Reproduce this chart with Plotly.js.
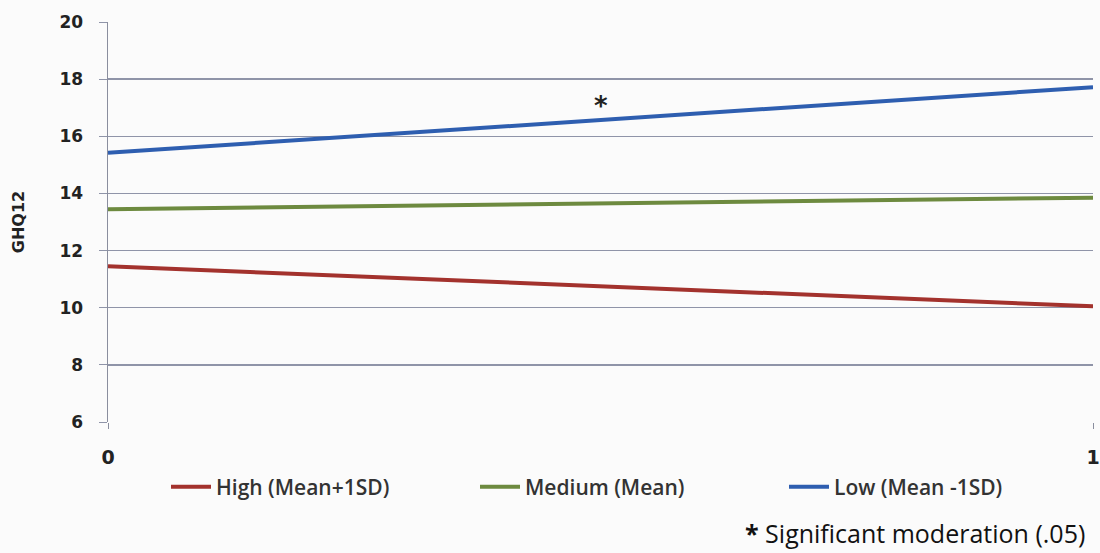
<!DOCTYPE html>
<html>
<head>
<meta charset="utf-8">
<script src="https://cdn.plot.ly/plotly-3.0.1.min.js"></script>
<style>
  html, body { margin: 0; padding: 0; background: #fbfbfb; }
  #chart { width: 1100px; height: 553px; }
</style>
</head>
<body>
<div id="chart"></div>
<script>
// Moderator level on the x axis (0 = absent, 1 = present)
const xLevels = [0, 1];

// Predicted GHQ12 score for each moderator group
const seriesNames = ['High (Mean+1SD)', 'Medium (Mean)', 'Low (Mean -1SD)'];
const highValues = [11.45, 10.05];
const mediumValues = [13.45, 13.85];
const lowValues = [15.42, 17.72];

const yTicks = [6, 8, 10, 12, 14, 16, 18, 20];

// Marker for the significant slope
const starX = 0.5;
const starY = 17.05;

const colors = ['#a3322d', '#6d8a3f', '#2e5eb0'];
const values = [highValues, mediumValues, lowValues];

const traces = values.map((v, i) => ({
  type: 'scatter',
  mode: 'lines',
  x: xLevels,
  y: v,
  name: seriesNames[i],
  line: { color: colors[i], width: 4 },
  hoverinfo: 'x+y+name'
}));

const W = 1100, H = 553;
const M = { l: 108, r: 7, t: 22, b: 131 };
const plotW = W - M.l - M.r;
const plotH = H - M.t - M.b;
// pixel -> paper helpers for items placed outside the plot area
const px = x => (x - M.l) / plotW;
const py = y => (H - M.b - y) / plotH;

const layout = {
  width: W,
  height: H,
  paper_bgcolor: '#fbfbfb',
  plot_bgcolor: '#fbfbfb',
  margin: M,
  showlegend: true,
  legend: {
    orientation: 'h',
    x: px(166),
    xanchor: 'left',
    y: py(487),
    yanchor: 'middle',
    font: { family: 'Open Sans, Liberation Sans, sans-serif', size: 21, color: '#333333', weight: 600 },
    itemwidth: 40,
    entrywidth: 254,
    bgcolor: 'rgba(0,0,0,0)'
  },
  xaxis: {
    range: [0, 1],
    tickvals: xLevels,
    ticktext: ['0', '1'],
    showgrid: false,
    zeroline: false,
    showline: false,
    ticks: 'outside',
    ticklen: 6,
    tickcolor: '#8a8e9e',
    ticklabelstandoff: 12,
    tickfont: { family: 'DejaVu Sans, sans-serif', size: 19, color: '#222222', weight: 'bold' },
    fixedrange: true
  },
  yaxis: {
    range: [6, 20],
    tickvals: yTicks,
    showgrid: true,
    gridcolor: '#8f94a8',
    gridwidth: 1.5,
    zeroline: false,
    showline: true,
    linecolor: '#8a8e9e',
    linewidth: 1.5,
    ticks: 'outside',
    ticklen: 8,
    tickcolor: '#8f94a8',
    ticklabelstandoff: 12,
    tickfont: { family: 'DejaVu Sans, sans-serif', size: 17, color: '#222222', weight: 'bold' },
    title: {
      text: 'GHQ12',
      font: { family: 'DejaVu Sans, sans-serif', size: 16, color: '#222222', weight: 'bold' },
      standoff: 31
    },
    fixedrange: true
  },
  annotations: [
    {
      x: starX, y: starY, xref: 'x', yref: 'y',
      text: '<b>*</b>', showarrow: false,
      font: { family: 'DejaVu Sans, sans-serif', size: 26, color: '#222222' }
    },
    {
      x: px(1087), y: py(533), xref: 'paper', yref: 'paper',
      xanchor: 'right', yanchor: 'middle',
      text: '<b>*</b> Significant moderation (.05)', showarrow: false,
      font: { family: 'Open Sans, Liberation Sans, sans-serif', size: 25, color: '#111111' }
    }
  ]
};

Plotly.newPlot('chart', traces, layout, { displayModeBar: false, staticPlot: true });
</script>
</body>
</html>
